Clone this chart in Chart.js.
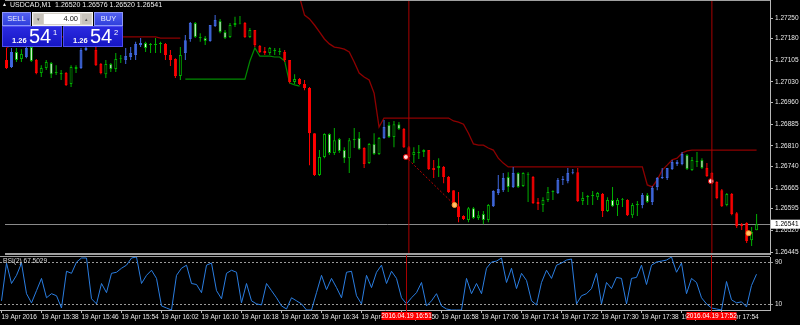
<!DOCTYPE html>
<html>
<head>
<meta charset="utf-8">
<script src="https://cdn.jsdelivr.net/npm/chart.js@4.4.1/dist/chart.umd.min.js"></script>
<style>
  html, body { margin: 0; padding: 0; background: #000; }
  body { width: 800px; height: 325px; position: relative; overflow: hidden; font-family: "Liberation Sans", Arial, sans-serif; }
  #main { position: absolute; left: 0; top: 0; }
  #rsi { position: absolute; left: 0; top: 255px; }
  #hdr { position: absolute; left: 2px; top: 1px; color: #f0f0f0; font-size: 7px; white-space: pre; }
  #hdr .tri { font-size: 5px; margin-right: 3px; vertical-align: 1px; }
  #rsiHdr { position: absolute; left: 3px; top: 257px; color: #d8d8d8; font-size: 6.5px; }
  .tb { position: absolute; top: 12px; width: 29px; height: 14px; box-sizing: border-box;
        background: linear-gradient(#5260f0, #3040dc); border: 1px solid #8c96f8;
        color: #e4e8ff; font-size: 7.5px; text-align: center; line-height: 12px; }
  .lot { position: absolute; left: 32px; top: 12px; width: 61px; height: 14px; box-sizing: border-box;
         background: #d4d0c8; border: 1px solid #f4f4f4; }
  .lot .inp { position: absolute; left: 11px; top: 1px; width: 36px; height: 10px; background: #fff;
              color: #111; font-size: 7.5px; line-height: 10px; text-align: right; padding-right: 2px; box-sizing: border-box; }
  .lot .ar { position: absolute; top: 1px; width: 9px; height: 10px; background: #c8c4bc; color: #555;
             font-size: 5px; line-height: 10px; text-align: center; }
  .pb { position: absolute; top: 26px; width: 60px; height: 21px; box-sizing: border-box;
        background: linear-gradient(#2a2ae0, #1616c4); border: 1px solid #4e4ef0; color: #fff; }
  .pb .sm { position: absolute; left: 9px; top: 9px; font-size: 7.5px; font-weight: bold; }
  .pb .big { position: absolute; left: 26px; top: -2px; font-size: 20px; }
  .pb .sup { position: absolute; left: 50px; top: 1px; font-size: 7.5px; }
</style>
</head>
<body>
<canvas id="main" width="800" height="255"></canvas>
<canvas id="rsi" width="800" height="70"></canvas>

<div id="hdr"><span class="tri">&#9650;</span>USDCAD,M1  1.26520 1.26576 1.26520 1.26541</div>
<div id="rsiHdr">RSI(2) 67.5029</div>

<div class="tb" style="left:2px">SELL</div>
<div class="lot"><span class="ar" style="left:1px">&#9662;</span><span class="inp">4.00</span><span class="ar" style="left:49px">&#9652;</span></div>
<div class="tb" style="left:94px">BUY</div>
<div class="pb" style="left:2px"><span class="sm">1.26</span><span class="big">54</span><span class="sup">1</span></div>
<div class="pb" style="left:63px"><span class="sm">1.26</span><span class="big">54</span><span class="sup">2</span></div>

<script>
// USDCAD M1, one bar per minute from 15:30 (index 0) to 18:01 (index 151)
const opens = [
  1.27106, 1.27082, 1.27133, 1.27109, 1.27116, 1.27150, 1.27106, 1.27061, 1.27078, 1.27095,
  1.27061, 1.27061, 1.27061, 1.27023, 1.27075, 1.27078, 1.27140, 1.27154, 1.27140, 1.27092,
  1.27057, 1.27092, 1.27075, 1.27109, 1.27106, 1.27116, 1.27123, 1.27157, 1.27164, 1.27157,
  1.27157, 1.27161, 1.27161, 1.27123, 1.27109, 1.27051, 1.27130, 1.27178, 1.27233, 1.27181,
  1.27181, 1.27171, 1.27223, 1.27240, 1.27202, 1.27185, 1.27226, 1.27231, 1.27233, 1.27185,
  1.27209, 1.27154, 1.27137, 1.27130, 1.27137, 1.27133, 1.27133, 1.27106, 1.27030, 1.27040,
  1.27023, 1.27009, 1.26854, 1.26710, 1.26772, 1.26851, 1.26786, 1.26834, 1.26796, 1.26768,
  1.26830, 1.26837, 1.26803, 1.26751, 1.26817, 1.26782, 1.26837, 1.26882, 1.26841, 1.26885,
  1.26868, 1.26806, 1.26779, 1.26786, 1.26789, 1.26796, 1.26734, 1.26734, 1.26738, 1.26703,
  1.26658, 1.26603, 1.26569, 1.26555, 1.26596, 1.26562, 1.26576, 1.26555, 1.26603, 1.26648,
  1.26658, 1.26703, 1.26669, 1.26717, 1.26672, 1.26713, 1.26703, 1.26617, 1.26607, 1.26624,
  1.26652, 1.26648, 1.26693, 1.26689, 1.26717, 1.26720, 1.26621, 1.26634, 1.26638, 1.26634,
  1.26645, 1.26586, 1.26624, 1.26607, 1.26624, 1.26624, 1.26572, 1.26607, 1.26607, 1.26641,
  1.26617, 1.26669, 1.26700, 1.26700, 1.26731, 1.26748, 1.26748, 1.26779, 1.26727, 1.26755,
  1.26762, 1.26734, 1.26717, 1.26686, 1.26658, 1.26607, 1.26645, 1.26579, 1.26541, 1.26545,
  1.26486, 1.26520
];
const highs = [
  1.27147, 1.27147, 1.27147, 1.27143, 1.27150, 1.27157, 1.27109, 1.27088, 1.27106, 1.27099,
  1.27088, 1.27071, 1.27064, 1.27088, 1.27088, 1.27147, 1.27150, 1.27181, 1.27150, 1.27095,
  1.27106, 1.27095, 1.27130, 1.27123, 1.27147, 1.27150, 1.27168, 1.27181, 1.27168, 1.27164,
  1.27181, 1.27168, 1.27164, 1.27140, 1.27112, 1.27150, 1.27192, 1.27236, 1.27236, 1.27198,
  1.27188, 1.27226, 1.27260, 1.27247, 1.27209, 1.27233, 1.27254, 1.27257, 1.27236, 1.27216,
  1.27209, 1.27157, 1.27150, 1.27150, 1.27147, 1.27147, 1.27140, 1.27106, 1.27057, 1.27044,
  1.27037, 1.27013, 1.26854, 1.26796, 1.26854, 1.26854, 1.26872, 1.26837, 1.26806, 1.26837,
  1.26872, 1.26858, 1.26806, 1.26820, 1.26854, 1.26841, 1.26899, 1.26892, 1.26896, 1.26892,
  1.26872, 1.26810, 1.26806, 1.26813, 1.26799, 1.26796, 1.26762, 1.26768, 1.26741, 1.26707,
  1.26658, 1.26652, 1.26572, 1.26600, 1.26600, 1.26586, 1.26586, 1.26610, 1.26658, 1.26710,
  1.26717, 1.26720, 1.26738, 1.26720, 1.26720, 1.26720, 1.26707, 1.26631, 1.26634, 1.26669,
  1.26658, 1.26700, 1.26707, 1.26734, 1.26731, 1.26734, 1.26652, 1.26641, 1.26655, 1.26652,
  1.26648, 1.26634, 1.26669, 1.26631, 1.26631, 1.26627, 1.26614, 1.26621, 1.26648, 1.26648,
  1.26672, 1.26703, 1.26734, 1.26734, 1.26762, 1.26762, 1.26789, 1.26782, 1.26772, 1.26789,
  1.26768, 1.26751, 1.26720, 1.26689, 1.26662, 1.26648, 1.26648, 1.26583, 1.26545, 1.26548,
  1.26531, 1.26576
];
const lows = [
  1.27075, 1.27078, 1.27099, 1.27099, 1.27112, 1.27099, 1.27057, 1.27047, 1.27071, 1.27044,
  1.27054, 1.27037, 1.27016, 1.27013, 1.27061, 1.27075, 1.27137, 1.27150, 1.27085, 1.27057,
  1.27044, 1.27064, 1.27064, 1.27095, 1.27092, 1.27106, 1.27106, 1.27150, 1.27133, 1.27130,
  1.27130, 1.27130, 1.27106, 1.27085, 1.27044, 1.27037, 1.27106, 1.27168, 1.27181, 1.27168,
  1.27157, 1.27168, 1.27219, 1.27198, 1.27178, 1.27181, 1.27219, 1.27229, 1.27181, 1.27181,
  1.27150, 1.27130, 1.27123, 1.27123, 1.27123, 1.27123, 1.27099, 1.27026, 1.27023, 1.27020,
  1.27002, 1.26744, 1.26707, 1.26707, 1.26768, 1.26779, 1.26779, 1.26786, 1.26751, 1.26717,
  1.26803, 1.26796, 1.26734, 1.26748, 1.26779, 1.26779, 1.26834, 1.26837, 1.26806, 1.26865,
  1.26803, 1.26762, 1.26751, 1.26765, 1.26772, 1.26727, 1.26700, 1.26703, 1.26682, 1.26648,
  1.26600, 1.26548, 1.26555, 1.26548, 1.26559, 1.26555, 1.26541, 1.26548, 1.26600, 1.26641,
  1.26652, 1.26652, 1.26665, 1.26665, 1.26669, 1.26617, 1.26610, 1.26590, 1.26583, 1.26617,
  1.26624, 1.26645, 1.26676, 1.26682, 1.26713, 1.26617, 1.26607, 1.26607, 1.26607, 1.26624,
  1.26566, 1.26583, 1.26600, 1.26569, 1.26600, 1.26569, 1.26562, 1.26569, 1.26596, 1.26614,
  1.26607, 1.26658, 1.26696, 1.26693, 1.26727, 1.26741, 1.26744, 1.26727, 1.26724, 1.26738,
  1.26731, 1.26703, 1.26679, 1.26627, 1.26600, 1.26603, 1.26572, 1.26528, 1.26521, 1.26476,
  1.26466, 1.26520
];
const closes = [
  1.27078, 1.27133, 1.27106, 1.27126, 1.27147, 1.27102, 1.27061, 1.27078, 1.27099, 1.27057,
  1.27064, 1.27057, 1.27020, 1.27082, 1.27082, 1.27140, 1.27147, 1.27174, 1.27088, 1.27061,
  1.27092, 1.27075, 1.27109, 1.27112, 1.27119, 1.27130, 1.27161, 1.27164, 1.27147, 1.27161,
  1.27161, 1.27164, 1.27123, 1.27106, 1.27051, 1.27123, 1.27174, 1.27233, 1.27185, 1.27185,
  1.27171, 1.27226, 1.27243, 1.27202, 1.27181, 1.27226, 1.27233, 1.27233, 1.27185, 1.27209,
  1.27157, 1.27133, 1.27130, 1.27147, 1.27140, 1.27137, 1.27106, 1.27030, 1.27040, 1.27023,
  1.27009, 1.26854, 1.26710, 1.26772, 1.26851, 1.26786, 1.26830, 1.26793, 1.26768, 1.26830,
  1.26834, 1.26799, 1.26748, 1.26817, 1.26782, 1.26837, 1.26875, 1.26841, 1.26885, 1.26868,
  1.26806, 1.26772, 1.26789, 1.26789, 1.26796, 1.26731, 1.26727, 1.26741, 1.26703, 1.26652,
  1.26607, 1.26566, 1.26559, 1.26596, 1.26562, 1.26572, 1.26555, 1.26607, 1.26655, 1.26662,
  1.26700, 1.26669, 1.26717, 1.26669, 1.26717, 1.26710, 1.26614, 1.26610, 1.26624, 1.26652,
  1.26655, 1.26693, 1.26696, 1.26717, 1.26720, 1.26621, 1.26631, 1.26638, 1.26641, 1.26648,
  1.26586, 1.26624, 1.26603, 1.26624, 1.26627, 1.26572, 1.26607, 1.26610, 1.26641, 1.26617,
  1.26665, 1.26700, 1.26703, 1.26734, 1.26755, 1.26755, 1.26782, 1.26731, 1.26762, 1.26758,
  1.26734, 1.26707, 1.26682, 1.26631, 1.26603, 1.26645, 1.26576, 1.26535, 1.26535, 1.26483,
  1.26514, 1.26541
];
// trend colouring of the bars: r = red, b = blue, - = plain
const paint = ('rb--b-r---' + '--r--bb-rr' + '----bbbb--' + '--rrr-bb--' + '-bb-----r-' +
               'rrr---rr-r' + 'rrr-------' + '--r---b---' + 'rr---rr-rr' + 'rrr-----bb' +
               'b-b---rr--' + '-bbbbr----' + 'r----r--b-' + 'bbbbbbb---' + '-rrrr-rrrr' + '--').split('');

// trailing stop lines
const redLine = [
  1.27147, 1.27157, 1.27168, 1.27174, 1.27185, 1.27185, 1.27185, 1.27185, 1.27185, 1.27185,
  1.27185, 1.27185, 1.27185, 1.27185, 1.27185, 1.27185, 1.27185, 1.27185, 1.27185, 1.27185,
  1.27185, 1.27185, 1.27185, 1.27185, 1.27185, 1.27185, 1.27185, 1.27185, 1.27185, 1.27185,
  1.27185, 1.27181, 1.27181, 1.27181, 1.27181, 1.27181, null, null, null, null,
  null, null, null, null, null, null, null, null, null, null,
  null, null, null, null, null, null, null, null, null, 1.27322,
  1.27260, 1.27247, 1.27226, 1.27202, 1.27178, 1.27161, 1.27150, 1.27147, 1.27143, 1.27133,
  1.27099, 1.27061, 1.27047, 1.27037, 1.26992, 1.26875, 1.26906, 1.26906, 1.26906, 1.26906,
  1.26906, 1.26906, 1.26906, 1.26906, 1.26906, 1.26906, 1.26906, 1.26906, 1.26906, 1.26906,
  1.26896, 1.26892, 1.26885, 1.26854, 1.26817, 1.26813, 1.26813, 1.26803, 1.26796, 1.26768,
  1.26751, 1.26738, 1.26738, 1.26738, 1.26738, 1.26738, 1.26738, 1.26738, 1.26738, 1.26738,
  1.26738, 1.26738, 1.26738, 1.26738, 1.26738, 1.26738, 1.26738, 1.26738, 1.26738, 1.26738,
  1.26738, 1.26738, 1.26738, 1.26738, 1.26738, 1.26738, 1.26738, 1.26738, 1.26738, 1.26676,
  1.26669, 1.26693, 1.26727, 1.26744, 1.26762, 1.26768, 1.26786, 1.26793, 1.26796, 1.26796,
  1.26796, 1.26796, 1.26796, 1.26796, 1.26796, 1.26796, 1.26796, 1.26796, 1.26796, 1.26796,
  1.26796, 1.26796
];
const greenStart = 36;
const greenLine = [
  1.27040, 1.27040, 1.27040, 1.27040, 1.27040, 1.27040, 1.27040, 1.27040, 1.27040, 1.27040,
  1.27040, 1.27040, 1.27040, 1.27102, 1.27147, 1.27119, 1.27119, 1.27119, 1.27116, 1.27116,
  1.27102, 1.27026, 1.27020, 1.27016
];

// trade arrows (open, close, open, close)
const tradeIdx = [80.4, 90.2, 141.8, 149.4];
const tradePrice = [1.26772, 1.26607, 1.26689, 1.26510];
const lastPrice = 1.26541;

const rsiVals = [
  17.3, 88.5, 50.0, 65.4, 88.5, 30.8, 13.5, 36.5, 59.6, 23.1,
  30.8, 26.9, 3.8, 73.1, 69.2, 90.4, 98.1, 98.1, 21.2, 11.5,
  50.0, 32.7, 69.2, 71.2, 78.8, 84.6, 98.1, 100, 50.0, 65.4,
  75.0, 59.6, 7.7, 3.8, 0.0, 65.4, 78.8, 84.6, 50.0, 48.1,
  32.7, 84.6, 88.5, 36.5, 21.2, 69.2, 75.0, 71.2, 13.5, 50.0,
  17.3, 11.5, 9.6, 50.0, 36.5, 23.1, 7.7, 1.9, 23.1, 17.3,
  11.5, 0.0, 0.0, 32.7, 65.4, 38.5, 59.6, 42.3, 23.1, 71.2,
  73.1, 26.9, 11.5, 65.4, 42.3, 71.2, 84.6, 50.0, 73.1, 59.6,
  23.1, 11.5, 23.1, 32.7, 51.9, 7.7, 17.3, 30.8, 7.7, 1.9,
  0.0, 0.0, 0.0, 59.6, 30.8, 50.0, 30.8, 78.8, 90.4, 92.3,
  98.1, 51.9, 78.8, 40.4, 69.2, 55.8, 17.3, 9.6, 51.9, 75.0,
  59.6, 84.6, 88.5, 94.2, 96.2, 11.5, 26.9, 30.8, 40.4, 69.2,
  11.5, 51.9, 40.4, 61.5, 59.6, 11.5, 59.6, 61.5, 84.6, 48.1,
  84.6, 90.4, 92.3, 94.2, 100, 71.2, 88.5, 30.8, 59.6, 51.9,
  23.1, 11.5, 3.8, 1.9, 0.0, 53.8, 19.2, 13.5, 15.4, 5.8,
  46.2, 67.5
];
const rsiLevels = [10, 90];

const priceTicks = [1.27250, 1.27180, 1.27105, 1.27030, 1.26960, 1.26885, 1.26810,
                    1.26740, 1.26665, 1.26595, 1.26520, 1.26445];
const xTickIdx = [0, 8, 16, 24, 32, 40, 48, 56, 64, 72, 80, 88, 96, 104, 112, 120, 128, 136, 144];
const xTickLabels = ['19 Apr 2016', '19 Apr 15:38', '19 Apr 15:46', '19 Apr 15:54', '19 Apr 16:02',
  '19 Apr 16:10', '19 Apr 16:18', '19 Apr 16:26', '19 Apr 16:34', '19 Apr 16:42', '19 Apr 16:50',
  '19 Apr 16:58', '19 Apr 17:06', '19 Apr 17:14', '19 Apr 17:22', '19 Apr 17:30', '19 Apr 17:38',
  '19 Apr 17:46', '19 Apr 17:54'];
const crossIdx = [81, 142];
const crossLabels = ['2016.04.19 16:51', '2016.04.19 17:52'];

const xMin = -0.3, xMax = 153.7;
const yMin = 1.26435, yMax = 1.27312;

const RED = '#ff0000', BLUE = '#4169e1', GREEN = '#00b000';
const FONT = { family: 'Liberation Sans', size: 6.5 };
const axisGray = '#b8b8b8';
const textGray = '#e8e8e8';

Chart.defaults.font.family = 'Liberation Sans';

const idx = opens.map((_, k) => k);
function wickColor(k) {
  return paint[k] === 'r' ? RED : paint[k] === 'b' ? BLUE : GREEN;
}
function bodyFill(k) {
  if (paint[k] === 'r') return RED;
  if (paint[k] === 'b') return BLUE;
  return closes[k] >= opens[k] ? '#000000' : '#f4fff4';
}

// keep the plot area flush with the panel edges, whatever padding the tick labels ask for
function pinArea(top, bottom) {
  return {
    id: 'pinArea',
    afterLayout(chart) {
      const a = chart.chartArea;
      const bot = chart.height - bottom;
      a.top = top; a.bottom = bot; a.height = bot - top;
      const {x, y} = chart.scales;
      y.top = top; y.bottom = bot; y.height = bot - top;
      y.configure();
      if (x.options.display) {
        x.top = bot; x.bottom = bot + x.height;
      }
    }
  };
}

// frame, current price line and the crosshair lines
const mainDeco = {
  id: 'mainDeco',
  beforeDatasetsDraw(chart) {
    const {ctx, chartArea: a, scales: {y}} = chart;
    const py = Math.round(y.getPixelForValue(lastPrice)) + 0.5;
    ctx.save();
    ctx.strokeStyle = '#8a8a8a';
    ctx.lineWidth = 1;
    ctx.beginPath(); ctx.moveTo(a.left, py); ctx.lineTo(a.right, py); ctx.stroke();
    ctx.restore();
  },
  afterDraw(chart) {
    const {ctx, chartArea: a, scales: {x, y}} = chart;
    ctx.save();
    ctx.strokeStyle = '#a80000';
    ctx.lineWidth = 1;
    crossIdx.forEach(i => {
      const px = x.getPixelForValue(i);
      ctx.beginPath(); ctx.moveTo(px, a.top); ctx.lineTo(px, a.bottom); ctx.stroke();
    });
    ctx.fillStyle = '#a0a0a0';
    ctx.fillRect(a.left, a.top, a.right - a.left, 1);
    ctx.fillRect(a.left, a.bottom - 2, a.right - a.left, 2);
    // current price label
    const py = y.getPixelForValue(lastPrice);
    ctx.fillStyle = '#ffffff';
    ctx.fillRect(a.right + 1, py - 4.5, 29, 9);
    ctx.fillStyle = '#000000';
    ctx.font = '6.5px "Liberation Sans"';
    ctx.textBaseline = 'middle';
    ctx.fillText(lastPrice.toFixed(5), a.right + 5, py);
    ctx.restore();
  }
};

new Chart(document.getElementById('main'), {
  type: 'bar',
  data: {
    datasets: [
      {
        type: 'line', order: 0, showLine: false,
        data: tradeIdx.map((v, i) => ({x: v, y: tradePrice[i]})),
        pointRadius: 2.5, pointBorderWidth: 1,
        pointBackgroundColor: ['#ffe0e0', '#ffc070', '#ffe0e0', '#ffc070'],
        pointBorderColor: ['#e00000', '#ff9020', '#e00000', '#ff9020']
      },
      {
        type: 'line', order: 1,
        data: [{x: tradeIdx[0], y: tradePrice[0]}, {x: tradeIdx[1], y: tradePrice[1]}],
        borderColor: '#c00000', borderWidth: 1, borderDash: [2, 2], pointRadius: 0
      },
      {
        order: 2, grouped: false, barThickness: 3, inflateAmount: 0,
        data: idx.map(k => ({x: k, y: [opens[k], closes[k]]})),
        backgroundColor: idx.map(bodyFill),
        borderColor: idx.map(wickColor),
        borderWidth: 1, borderSkipped: false
      },
      {
        order: 3, grouped: false, barThickness: 1, inflateAmount: 0,
        data: idx.map(k => ({x: k, y: [lows[k], highs[k]]})),
        backgroundColor: idx.map(wickColor)
      },
      {
        type: 'line', order: 4,
        data: redLine.map((v, k) => ({x: k, y: v})),
        borderColor: '#8e0000', borderWidth: 1.3, pointRadius: 0, spanGaps: false
      },
      {
        type: 'line', order: 4,
        data: greenLine.map((v, i) => ({x: greenStart + i, y: v})),
        borderColor: '#008a00', borderWidth: 1.2, pointRadius: 0
      }
    ]
  },
  options: {
    responsive: false,
    animation: false,
    events: [],
    layout: { padding: 0 },
    plugins: { legend: { display: false }, tooltip: { enabled: false } },
    scales: {
      x: { type: 'linear', min: xMin, max: xMax, display: false, offset: false },
      y: {
        position: 'right', min: yMin, max: yMax,
        grid: { drawOnChartArea: false, drawTicks: true, tickLength: 3, color: axisGray },
        border: { display: true, color: axisGray },
        ticks: { color: textGray, font: FONT, padding: 2, autoSkip: false,
                 callback: v => v.toFixed(5) },
        afterBuildTicks: s => { s.ticks = priceTicks.map(v => ({value: v})); },
        afterFit: s => { s.width = 30; s.paddingTop = 0; s.paddingBottom = 0; }
      }
    }
  },
  plugins: [pinArea(0, 0), mainDeco]
});

const rsiDeco = {
  id: 'rsiDeco',
  afterDraw(chart) {
    const {ctx, chartArea: a, scales: {x}} = chart;
    ctx.save();
    ctx.fillStyle = '#a0a0a0';
    ctx.fillRect(a.left, a.top - 1, a.right - a.left, 1);
    ctx.strokeStyle = '#a80000';
    ctx.lineWidth = 1;
    ctx.font = '6.5px "Liberation Sans"';
    ctx.textAlign = 'center';
    ctx.textBaseline = 'middle';
    crossIdx.forEach((i, n) => {
      const px = x.getPixelForValue(i);
      ctx.beginPath(); ctx.moveTo(px, 0); ctx.lineTo(px, a.bottom + 2); ctx.stroke();
      ctx.fillStyle = '#ff0000';
      ctx.fillRect(px - 25, a.bottom + 2, 50, 8);
      ctx.fillStyle = '#ffffff';
      ctx.fillText(crossLabels[n], px, a.bottom + 6);
    });
    ctx.restore();
  }
};

new Chart(document.getElementById('rsi'), {
  type: 'line',
  data: {
    datasets: [{
      data: rsiVals.map((v, k) => ({x: k, y: v})),
      borderColor: '#2a7de0', borderWidth: 1, pointRadius: 0
    }]
  },
  options: {
    responsive: false,
    animation: false,
    events: [],
    layout: { padding: { top: 2 } },
    plugins: { legend: { display: false }, tooltip: { enabled: false } },
    scales: {
      x: {
        type: 'linear', min: xMin, max: xMax, position: 'bottom', offset: false,
        grid: { drawOnChartArea: false, drawTicks: true, tickLength: 3, color: axisGray },
        border: { display: true, color: axisGray },
        ticks: { align: 'start', maxRotation: 0, autoSkip: false, color: textGray, font: FONT, padding: 0,
                 callback: (v, i) => xTickLabels[i] },
        afterBuildTicks: s => { s.ticks = xTickIdx.map(v => ({value: v})); },
        afterFit: s => { s.height = 15; s.paddingLeft = 0; s.paddingRight = 0; }
      },
      y: {
        position: 'right', min: 0, max: 100,
        grid: { drawOnChartArea: true, drawTicks: true, tickLength: 3, color: '#9a9a9a' },
        border: { display: true, color: axisGray, dash: [2, 2] },
        ticks: { color: textGray, font: FONT, padding: 2, autoSkip: false },
        afterBuildTicks: s => { s.ticks = rsiLevels.map(v => ({value: v})); },
        afterFit: s => { s.width = 30; s.paddingTop = 0; s.paddingBottom = 0; }
      }
    }
  },
  plugins: [pinArea(2, 15), rsiDeco]
});
</script>
</body>
</html>
